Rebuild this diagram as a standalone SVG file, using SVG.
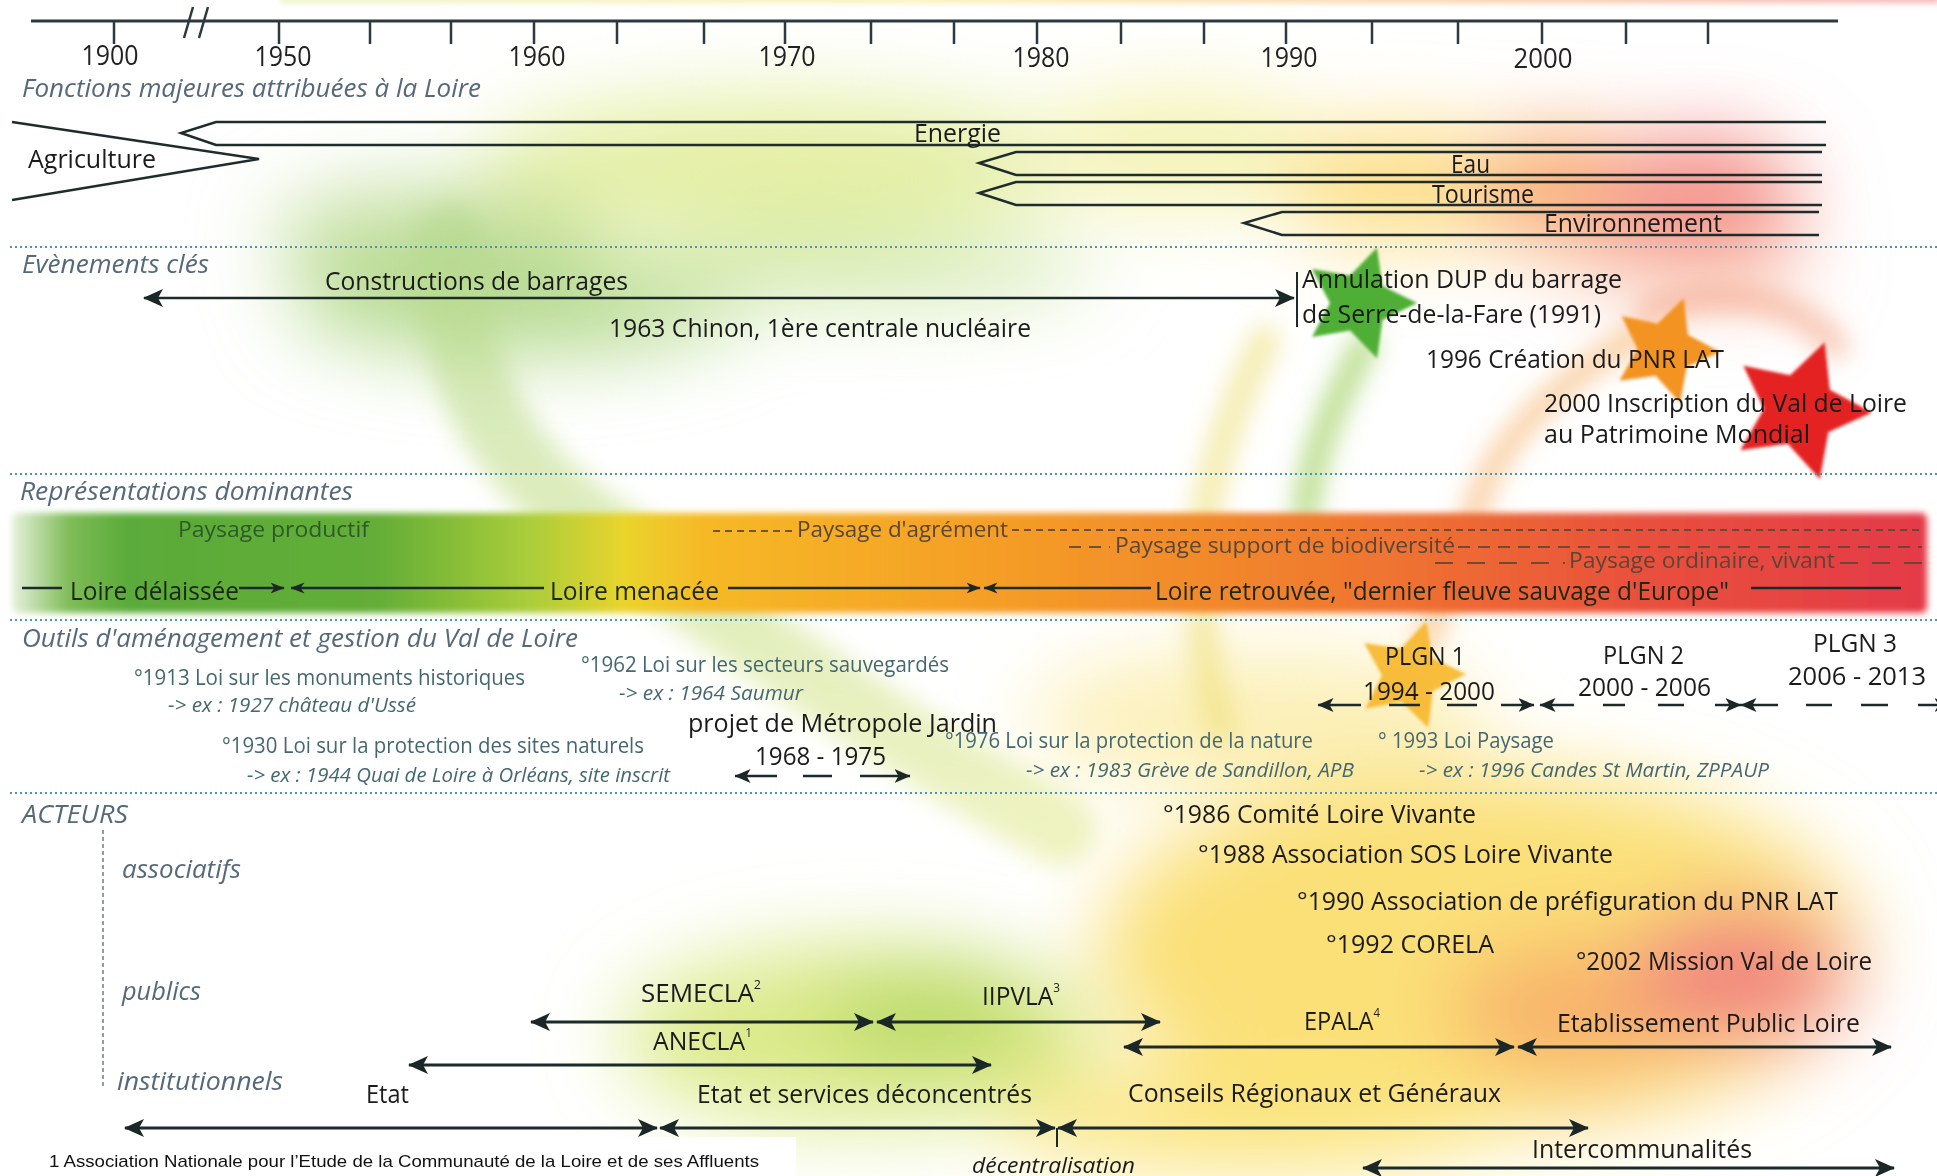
<svg xmlns="http://www.w3.org/2000/svg" width="1937" height="1176" viewBox="0 0 1937 1176">
<defs>
<style>
text{font-family:"Open Sans","Liberation Sans",sans-serif;fill:#1b1b1b}
.yr{font-size:28px;text-anchor:middle;fill:#222}
.sec{font-size:25px;font-style:italic;fill:#56697a}
.fn{font-size:25px}
.ev{font-size:26px}
.pay{font-size:22px;fill:#5a4636}
.prod{font-size:22px;fill:#2d5a2a}
.loire{font-size:25px;fill:#1c2718}
.law{font-size:21px;fill:#456870}
.ex{font-size:20px;font-style:italic;fill:#456870}
.big{font-size:26px}
.act{font-size:25px}
.foot{font-family:"Liberation Sans",Arial,sans-serif;font-size:17px;fill:#111}
.ln{stroke:#1d2a2a;stroke-width:2.5;fill:none}
.ar{stroke:#1d2a2a;stroke-width:3;fill:none}
.fshape{stroke:#1f2c2c;stroke-width:2.5;fill:none;stroke-linejoin:miter}
.sep{stroke:#4a94b4;stroke-width:2;stroke-dasharray:2 3}
.pd{stroke:#5a4636;stroke-width:2;opacity:.85}
</style>
<filter id="bL" filterUnits="userSpaceOnUse" x="-300" y="-300" width="2600" height="1800"><feGaussianBlur stdDeviation="40"/></filter>
<filter id="bM" filterUnits="userSpaceOnUse" x="-300" y="-300" width="2600" height="1800"><feGaussianBlur stdDeviation="12"/></filter>
<filter id="bS" filterUnits="userSpaceOnUse" x="-300" y="-300" width="2600" height="1800"><feGaussianBlur stdDeviation="3"/></filter>
<filter id="bT" filterUnits="userSpaceOnUse" x="-300" y="-300" width="2600" height="1800"><feGaussianBlur stdDeviation="1.8"/></filter>
<linearGradient id="repG" gradientUnits="userSpaceOnUse" x1="12" y1="0" x2="1927" y2="0">
<stop offset="0" stop-color="#e6f1dc"/>
<stop offset="0.03" stop-color="#7fbc57"/>
<stop offset="0.06" stop-color="#5aab3a"/>
<stop offset="0.19" stop-color="#63ad38"/>
<stop offset="0.27" stop-color="#aacd3a"/>
<stop offset="0.32" stop-color="#ead42c"/>
<stop offset="0.36" stop-color="#f6b928"/>
<stop offset="0.5" stop-color="#f5a026"/>
<stop offset="0.62" stop-color="#f28a2b"/>
<stop offset="0.73" stop-color="#ef7131"/>
<stop offset="0.85" stop-color="#e9503c"/>
<stop offset="1" stop-color="#e43a48"/>
</linearGradient>
<linearGradient id="topG" gradientUnits="userSpaceOnUse" x1="280" y1="0" x2="1937" y2="0">
<stop offset="0" stop-color="#eef4c8"/>
<stop offset="0.4" stop-color="#faf0b4"/>
<stop offset="0.7" stop-color="#f9d2a8"/>
<stop offset="1" stop-color="#f4b4b4"/>
</linearGradient>
<linearGradient id="stripeG" gradientUnits="userSpaceOnUse" x1="0" y1="230" x2="0" y2="860">
<stop offset="0" stop-color="#b4d88e"/>
<stop offset="0.5" stop-color="#c9e190"/>
<stop offset="1" stop-color="#e6ec9a"/>
</linearGradient>
<polygon id="star" points="0,-100 29.4,-40.5 95.1,-30.9 47.6,15.5 58.8,80.9 0,50 -58.8,80.9 -47.6,15.5 -95.1,-30.9 -29.4,-40.5"/>
<marker id="ah" viewBox="0 0 20 20" refX="19" refY="10" markerWidth="20" markerHeight="20" markerUnits="userSpaceOnUse" orient="auto-start-reverse"><path d="M0,1 L20,10 L0,19 L5,10 Z" fill="#1b2626"/></marker>
<marker id="ahm" viewBox="0 0 16 16" refX="15.5" refY="8" markerWidth="16" markerHeight="16" markerUnits="userSpaceOnUse" orient="auto-start-reverse"><path d="M0,1 L16,8 L0,15 L4,8 Z" fill="#1b2626"/></marker>
<marker id="ahs" viewBox="0 0 14 12" refX="13.5" refY="6" markerWidth="14" markerHeight="12" markerUnits="userSpaceOnUse" orient="auto-start-reverse"><path d="M0,0.5 L14,6 L0,11.5 L4,6 Z" fill="#1b2626"/></marker>
</defs>

<rect width="1937" height="1176" fill="#ffffff"/>

<g id="background" filter="url(#bL)">
<ellipse cx="780" cy="165" rx="300" ry="70" fill="#e4efa4"/>
<ellipse cx="430" cy="235" rx="160" ry="50" fill="#c6e0a2"/>
<ellipse cx="1180" cy="150" rx="150" ry="60" fill="#f4f3b4"/>
<ellipse cx="1400" cy="185" rx="120" ry="60" fill="#fddf88"/>
<ellipse cx="1560" cy="190" rx="90" ry="60" fill="#f9ae76"/>
<ellipse cx="1700" cy="200" rx="100" ry="65" fill="#f48f88"/>
<ellipse cx="520" cy="300" rx="230" ry="55" fill="#b6da90"/>
<ellipse cx="850" cy="270" rx="250" ry="35" fill="#d4eab4"/>
<ellipse cx="1690" cy="270" rx="120" ry="25" fill="#f9c6b0"/>
<ellipse cx="1260" cy="720" rx="230" ry="70" fill="#fcf0b8"/>
<ellipse cx="1480" cy="950" rx="380" ry="180" fill="#fbe078"/>
<ellipse cx="1580" cy="1010" rx="130" ry="70" fill="#f8b46c"/>
<ellipse cx="1740" cy="975" rx="110" ry="70" fill="#f2867f"/>
<ellipse cx="860" cy="1035" rx="240" ry="90" fill="#dbea8a"/>
<ellipse cx="930" cy="1015" rx="110" ry="50" fill="#bcda68"/>
<ellipse cx="1250" cy="1120" rx="250" ry="50" fill="#fbe47c"/>
</g>
<rect x="280" y="-8" width="1660" height="11" fill="url(#topG)" filter="url(#bS)"/>

<g id="arcs" filter="url(#bM)" fill="none" stroke-linecap="round">
<path d="M450,240 C455,360 480,450 600,530 C700,600 860,720 1060,830" stroke="url(#stripeG)" stroke-width="72" opacity="0.6"/>
<path d="M1365,345 C1335,400 1312,450 1305,515" stroke="#9fd060" stroke-width="26" opacity="0.7"/>
<path d="M1265,340 C1225,420 1200,500 1200,580 C1200,640 1210,690 1222,730" stroke="#efe07a" stroke-width="30" opacity="0.6"/>
<path d="M1640,335 C1560,380 1495,440 1475,510 C1460,560 1440,610 1425,640" stroke="#f6b36a" stroke-width="24" opacity="0.6"/>
<path d="M1650,310 C1720,285 1790,295 1835,345" stroke="#f4a080" stroke-width="28" opacity="0.55"/>
</g>

<g id="stars" filter="url(#bT)">
<use href="#star" transform="translate(1359,303) rotate(18) scale(0.58)" fill="#4fae35"/>
<use href="#star" transform="translate(1665,350) rotate(20) scale(0.55)" fill="#f39322"/>
<use href="#star" transform="translate(1800,410) rotate(20) scale(0.72)" fill="#e42320"/>
<use href="#star" transform="translate(1410,675) rotate(17) scale(0.56)" fill="#f6b62a" opacity="0.9"/>
</g>

<g id="representations-band">
<rect x="12" y="513" width="1915" height="100" rx="6" fill="url(#repG)" filter="url(#bS)"/>
</g>

<g id="separators">
<line class="sep" x1="10" y1="247" x2="1937" y2="247"/>
<line class="sep" x1="10" y1="474" x2="1937" y2="474"/>
<line class="sep" x1="10" y1="620" x2="1937" y2="620"/>
<line class="sep" x1="10" y1="793" x2="1937" y2="793"/>
<line x1="103" y1="830" x2="103" y2="1088" stroke="#6a7d8a" stroke-width="1.5" stroke-dasharray="4 3"/>
</g>

<g id="timeline">
<line x1="31" y1="21" x2="1838" y2="21" stroke="#2b3a40" stroke-width="3"/>
<path d="M114,21V44 M279,21V44 M370,21V44 M451,21V44 M534,21V44 M617,21V44 M704,21V44 M785,21V44 M871,21V44 M954,21V44 M1037,21V44 M1121,21V44 M1204,21V44 M1286,21V44 M1372,21V44 M1458,21V44 M1542,21V44 M1626,21V44 M1708,21V44" stroke="#2b3a40" stroke-width="2.5"/>
<path d="M193,7 L184,38 M208,7 L199,38" stroke="#2b3a40" stroke-width="2.5"/>
<text class="yr" x="110" y="65" textLength="57" lengthAdjust="spacingAndGlyphs">1900</text>
<text class="yr" x="283" y="66" textLength="57" lengthAdjust="spacingAndGlyphs">1950</text>
<text class="yr" x="537" y="66" textLength="57" lengthAdjust="spacingAndGlyphs">1960</text>
<text class="yr" x="787" y="66" textLength="57" lengthAdjust="spacingAndGlyphs">1970</text>
<text class="yr" x="1041" y="67" textLength="57" lengthAdjust="spacingAndGlyphs">1980</text>
<text class="yr" x="1289" y="67" textLength="57" lengthAdjust="spacingAndGlyphs">1990</text>
<text class="yr" x="1543" y="68" textLength="59" lengthAdjust="spacingAndGlyphs">2000</text>
</g>

<g id="section-titles">
<text class="sec" x="22" y="97" textLength="459" lengthAdjust="spacingAndGlyphs">Fonctions majeures attribuées à la Loire</text>
<text class="sec" x="22" y="273" textLength="187" lengthAdjust="spacingAndGlyphs">Evènements clés</text>
<text class="sec" x="20" y="500" textLength="333" lengthAdjust="spacingAndGlyphs">Représentations dominantes</text>
<text class="sec" x="22" y="647" textLength="556" lengthAdjust="spacingAndGlyphs">Outils d'aménagement et gestion du Val de Loire</text>
<text class="sec" x="22" y="823" textLength="106" lengthAdjust="spacingAndGlyphs">ACTEURS</text>
<text class="sec" x="122" y="878" textLength="119" lengthAdjust="spacingAndGlyphs">associatifs</text>
<text class="sec" x="122" y="1000" textLength="79" lengthAdjust="spacingAndGlyphs">publics</text>
<text class="sec" x="117" y="1090" textLength="166" lengthAdjust="spacingAndGlyphs">institutionnels</text>
</g>

<g id="fonctions">
<g id="f-agriculture"><path class="fshape" d="M12,122 L259,159 L12,200"/><text class="fn" x="28" y="168" textLength="128" lengthAdjust="spacingAndGlyphs">Agriculture</text></g>
<g id="f-energie"><path class="fshape" d="M1826,122 H216 L181,133 L216,145 H1826"/><text class="fn" x="914" y="142" textLength="87" lengthAdjust="spacingAndGlyphs">Energie</text></g>
<g id="f-eau"><path class="fshape" d="M1822,152 H1016 L979,163 L1016,175 H1822"/><text class="fn" x="1451" y="173" textLength="39" lengthAdjust="spacingAndGlyphs">Eau</text></g>
<g id="f-tourisme"><path class="fshape" d="M1822,182 H1016 L979,193 L1016,205 H1822"/><text class="fn" x="1432" y="203" textLength="102" lengthAdjust="spacingAndGlyphs">Tourisme</text></g>
<g id="f-environnement"><path class="fshape" d="M1819,212 H1282 L1244,223 L1282,235 H1819"/><text class="fn" x="1544" y="232" textLength="178" lengthAdjust="spacingAndGlyphs">Environnement</text></g>
</g>

<g id="evenements">
<g id="e-barrages"><text class="ev" x="325" y="290" textLength="303" lengthAdjust="spacingAndGlyphs">Constructions de barrages</text></g>
<g id="e-chinon"><text class="ev" x="609" y="337" textLength="422" lengthAdjust="spacingAndGlyphs">1963 Chinon, 1ère centrale nucléaire</text></g>
<g id="e-dup"><text class="ev" x="1302" y="288" textLength="320" lengthAdjust="spacingAndGlyphs">Annulation DUP du barrage</text><text class="ev" x="1302" y="323" textLength="299" lengthAdjust="spacingAndGlyphs">de Serre-de-la-Fare (1991)</text></g>
<g id="e-pnr"><text class="ev" x="1426" y="368" textLength="298" lengthAdjust="spacingAndGlyphs">1996 Création du PNR LAT</text></g>
<g id="e-unesco"><text class="ev" x="1544" y="412" textLength="363" lengthAdjust="spacingAndGlyphs">2000 Inscription du Val de Loire</text><text class="ev" x="1544" y="443" textLength="266" lengthAdjust="spacingAndGlyphs">au Patrimoine Mondial</text></g>
</g>

<g id="representations">
<g id="r-productif"><text class="prod" x="178" y="537" textLength="191" lengthAdjust="spacingAndGlyphs">Paysage productif</text></g>
<g id="r-agrement"><text class="pay" x="797" y="537" textLength="211" lengthAdjust="spacingAndGlyphs">Paysage d'agrément</text></g>
<g id="r-biodiversite"><text class="pay" x="1115" y="553" textLength="340" lengthAdjust="spacingAndGlyphs">Paysage support de biodiversité</text></g>
<g id="r-ordinaire"><text class="pay" x="1569" y="568" textLength="266" lengthAdjust="spacingAndGlyphs">Paysage ordinaire, vivant</text></g>
<g id="r-delaissee"><text class="loire" x="70" y="600" textLength="169" lengthAdjust="spacingAndGlyphs">Loire délaissée</text></g>
<g id="r-menacee"><text class="loire" x="550" y="600" textLength="169" lengthAdjust="spacingAndGlyphs">Loire menacée</text></g>
<g id="r-retrouvee"><text class="loire" x="1155" y="600" textLength="574" lengthAdjust="spacingAndGlyphs">Loire retrouvée, "dernier fleuve sauvage d'Europe"</text></g>
</g>

<g id="outils">
<g id="o-1913"><text class="law" x="134" y="685" textLength="391" lengthAdjust="spacingAndGlyphs">°1913 Loi sur les monuments historiques</text><text class="ex" x="168" y="712" textLength="248" lengthAdjust="spacingAndGlyphs">-&gt; ex : 1927 château d'Ussé</text></g>
<g id="o-1930"><text class="law" x="222" y="753" textLength="422" lengthAdjust="spacingAndGlyphs">°1930 Loi sur la protection des sites naturels</text><text class="ex" x="247" y="782" textLength="423" lengthAdjust="spacingAndGlyphs">-&gt; ex : 1944 Quai de Loire à Orléans, site inscrit</text></g>
<g id="o-1962"><text class="law" x="581" y="672" textLength="368" lengthAdjust="spacingAndGlyphs">°1962 Loi sur les secteurs sauvegardés</text><text class="ex" x="619" y="700" textLength="184" lengthAdjust="spacingAndGlyphs">-&gt; ex : 1964 Saumur</text></g>
<g id="o-metropole"><text class="big" x="688" y="732" textLength="309" lengthAdjust="spacingAndGlyphs">projet de Métropole Jardin</text><text class="big" x="755" y="765" textLength="131" lengthAdjust="spacingAndGlyphs">1968 - 1975</text></g>
<g id="o-1976"><text class="law" x="945" y="748" textLength="368" lengthAdjust="spacingAndGlyphs">°1976 Loi sur la protection de la nature</text><text class="ex" x="1026" y="777" textLength="328" lengthAdjust="spacingAndGlyphs">-&gt; ex : 1983 Grève de Sandillon, APB</text></g>
<g id="o-1993"><text class="law" x="1378" y="748" textLength="176" lengthAdjust="spacingAndGlyphs">° 1993 Loi Paysage</text><text class="ex" x="1419" y="777" textLength="350" lengthAdjust="spacingAndGlyphs">-&gt; ex : 1996 Candes St Martin, ZPPAUP</text></g>
<g id="o-plgn1"><text class="big" x="1385" y="665" textLength="80" lengthAdjust="spacingAndGlyphs">PLGN 1</text><text class="big" x="1363" y="700" textLength="132" lengthAdjust="spacingAndGlyphs">1994 - 2000</text></g>
<g id="o-plgn2"><text class="big" x="1603" y="664" textLength="81" lengthAdjust="spacingAndGlyphs">PLGN 2</text><text class="big" x="1578" y="696" textLength="133" lengthAdjust="spacingAndGlyphs">2000 - 2006</text></g>
<g id="o-plgn3"><text class="big" x="1813" y="652" textLength="84" lengthAdjust="spacingAndGlyphs">PLGN 3</text><text class="big" x="1788" y="685" textLength="138" lengthAdjust="spacingAndGlyphs">2006 - 2013</text></g>
</g>

<g id="acteurs">
<g id="a-1986"><text class="act" x="1163" y="823" textLength="313" lengthAdjust="spacingAndGlyphs">°1986 Comité Loire Vivante</text></g>
<g id="a-1988"><text class="act" x="1198" y="863" textLength="415" lengthAdjust="spacingAndGlyphs">°1988 Association SOS Loire Vivante</text></g>
<g id="a-1990"><text class="act" x="1297" y="910" textLength="541" lengthAdjust="spacingAndGlyphs">°1990 Association de préfiguration du PNR LAT</text></g>
<g id="a-1992"><text class="act" x="1326" y="953" textLength="168" lengthAdjust="spacingAndGlyphs">°1992 CORELA</text></g>
<g id="a-2002"><text class="act" x="1576" y="970" textLength="296" lengthAdjust="spacingAndGlyphs">°2002 Mission Val de Loire</text></g>
<g id="a-semecla"><text class="act" x="641" y="1002" textLength="120" lengthAdjust="spacingAndGlyphs">SEMECLA<tspan font-size="12" dy="-13">2</tspan></text></g>
<g id="a-iipvla"><text class="act" x="982" y="1005" textLength="78" lengthAdjust="spacingAndGlyphs">IIPVLA<tspan font-size="12" dy="-13">3</tspan></text></g>
<g id="a-anecla"><text class="act" x="653" y="1050" textLength="99" lengthAdjust="spacingAndGlyphs">ANECLA<tspan font-size="12" dy="-13">1</tspan></text></g>
<g id="a-epala"><text class="act" x="1304" y="1030" textLength="76" lengthAdjust="spacingAndGlyphs">EPALA<tspan font-size="12" dy="-13">4</tspan></text></g>
<g id="a-epl"><text class="act" x="1557" y="1032" textLength="303" lengthAdjust="spacingAndGlyphs">Etablissement Public Loire</text></g>
<g id="a-etat"><text class="act" x="366" y="1103" textLength="43" lengthAdjust="spacingAndGlyphs">Etat</text></g>
<g id="a-etatsd"><text class="act" x="697" y="1103" textLength="335" lengthAdjust="spacingAndGlyphs">Etat et services déconcentrés</text></g>
<g id="a-conseils"><text class="act" x="1128" y="1102" textLength="373" lengthAdjust="spacingAndGlyphs">Conseils Régionaux et Généraux</text></g>
<g id="a-decentralisation"><text x="972" y="1173" font-size="21" font-style="italic" fill="#1b1b1b" textLength="163" lengthAdjust="spacingAndGlyphs">décentralisation</text></g>
<g id="a-interco"><text class="act" x="1532" y="1158" textLength="220" lengthAdjust="spacingAndGlyphs">Intercommunalités</text></g>
</g>

<g id="footnotes">
<rect x="28" y="1137" width="768" height="39" fill="#ffffff"/>
<text class="foot" x="49" y="1167" textLength="710" lengthAdjust="spacingAndGlyphs">1 Association Nationale pour l’Etude de la Communauté de la Loire et de ses Affluents</text>
<text class="foot" x="49" y="1188" textLength="652" lengthAdjust="spacingAndGlyphs">2 Société d’Economie Mixte pour la Communauté de la Loire et de ses Affluents</text>
</g>

<g id="connectors">
<line class="ln" x1="144" y1="298" x2="1294" y2="298" marker-start="url(#ah)" marker-end="url(#ah)"/>
<line x1="1297" y1="272" x2="1297" y2="327" stroke="#1d2a2a" stroke-width="2"/>
<line class="ln" x1="22" y1="588" x2="62" y2="588"/>
<line class="ln" x1="239" y1="588" x2="284" y2="588" marker-end="url(#ahs)"/>
<line class="ln" x1="291" y1="588" x2="544" y2="588" marker-start="url(#ahs)"/>
<line class="ln" x1="728" y1="588" x2="980" y2="588" marker-end="url(#ahs)"/>
<line class="ln" x1="984" y1="588" x2="1151" y2="588" marker-start="url(#ahs)"/>
<line class="ln" x1="1751" y1="588" x2="1901" y2="588"/>
<line class="pd" x1="713" y1="531" x2="795" y2="531" stroke-dasharray="7 5"/>
<line class="pd" x1="1012" y1="530" x2="1922" y2="530" stroke-dasharray="7 5"/>
<line class="pd" x1="1069" y1="547" x2="1110" y2="547" stroke-dasharray="12 8"/>
<line class="pd" x1="1458" y1="547" x2="1922" y2="547" stroke-dasharray="12 8"/>
<line class="pd" x1="1435" y1="563" x2="1565" y2="563" stroke-dasharray="18 14"/>
<line class="pd" x1="1840" y1="563" x2="1922" y2="563" stroke-dasharray="18 14"/>
<line class="ln" x1="735" y1="776" x2="777" y2="776" marker-start="url(#ahm)"/>
<line class="ln" x1="803" y1="776" x2="832" y2="776"/>
<line class="ln" x1="860" y1="776" x2="910" y2="776" marker-end="url(#ahm)"/>
<line class="ln" x1="1318" y1="705" x2="1361" y2="705" marker-start="url(#ahm)"/>
<line class="ln" x1="1389" y1="705" x2="1420" y2="705"/>
<line class="ln" x1="1447" y1="705" x2="1477" y2="705"/>
<line class="ln" x1="1501" y1="705" x2="1534" y2="705" marker-end="url(#ahm)"/>
<line class="ln" x1="1540" y1="705" x2="1574" y2="705" marker-start="url(#ahm)"/>
<line class="ln" x1="1603" y1="705" x2="1625" y2="705"/>
<line class="ln" x1="1658" y1="705" x2="1684" y2="705"/>
<line class="ln" x1="1715" y1="705" x2="1741" y2="705" marker-end="url(#ahm)"/>
<line class="ln" x1="1741" y1="705" x2="1778" y2="705" marker-start="url(#ahm)"/>
<line class="ln" x1="1806" y1="705" x2="1832" y2="705"/>
<line class="ln" x1="1861" y1="705" x2="1888" y2="705"/>
<line class="ln" x1="1918" y1="705" x2="1950" y2="705" marker-end="url(#ahm)"/>
<line class="ar" x1="531" y1="1022" x2="873" y2="1022" marker-start="url(#ah)" marker-end="url(#ah)"/>
<line class="ar" x1="877" y1="1022" x2="1160" y2="1022" marker-start="url(#ah)" marker-end="url(#ah)"/>
<line class="ar" x1="409" y1="1065" x2="991" y2="1065" marker-start="url(#ah)" marker-end="url(#ah)"/>
<line class="ar" x1="1124" y1="1047" x2="1514" y2="1047" marker-start="url(#ah)" marker-end="url(#ah)"/>
<line class="ar" x1="1518" y1="1047" x2="1891" y2="1047" marker-start="url(#ah)" marker-end="url(#ah)"/>
<line class="ar" x1="125" y1="1128" x2="657" y2="1128" marker-start="url(#ah)" marker-end="url(#ah)"/>
<line class="ar" x1="660" y1="1128" x2="1055" y2="1128" marker-start="url(#ah)" marker-end="url(#ah)"/>
<line class="ar" x1="1058" y1="1128" x2="1588" y2="1128" marker-start="url(#ah)" marker-end="url(#ah)"/>
<line x1="1057" y1="1128" x2="1057" y2="1147" stroke="#1d2a2a" stroke-width="2"/>
<line class="ar" x1="1363" y1="1168" x2="1894" y2="1168" marker-start="url(#ah)" marker-end="url(#ah)"/>
</g>
</svg>
